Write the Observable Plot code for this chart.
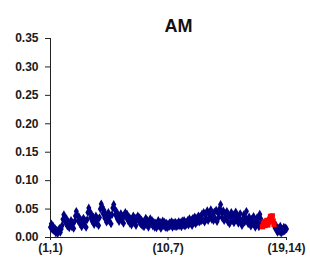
<!DOCTYPE html>
<html>
<head>
<meta charset="utf-8">
<script src="https://cdn.jsdelivr.net/npm/d3@7"></script>
<script src="https://cdn.jsdelivr.net/npm/@observablehq/plot@0.6"></script>
<style>
  html, body { margin: 0; padding: 0; background: #fff; }
  #chart svg { display: block; }
</style>
</head>
<body>
<div id="chart"></div>
<script>
const title = "AM";
const rowCount = 19;
const colCount = 14;
const xTickIndex = [1, 133, 266];
const xTickLabels = ["(1,1)", "(10,7)", "(19,14)"];
const yTicks = [0, 0.05, 0.10, 0.15, 0.20, 0.25, 0.30, 0.35];
const highlightRow = 18;

// values, one row of 14 per line
const values = [
  0.018, 0.024, 0.014, 0.020, 0.012, 0.016, 0.008, 0.013, 0.007, 0.011, 0.016, 0.009, 0.015, 0.021,
  0.032, 0.040, 0.036, 0.026, 0.033, 0.020, 0.027, 0.017, 0.024, 0.030, 0.019, 0.026, 0.016, 0.028,
  0.038, 0.046, 0.040, 0.030, 0.036, 0.024, 0.031, 0.019, 0.027, 0.034, 0.022, 0.029, 0.018, 0.031,
  0.044, 0.052, 0.046, 0.035, 0.041, 0.028, 0.036, 0.023, 0.031, 0.038, 0.025, 0.033, 0.021, 0.035,
  0.050, 0.059, 0.054, 0.042, 0.048, 0.034, 0.041, 0.027, 0.036, 0.044, 0.029, 0.038, 0.024, 0.040,
  0.052, 0.058, 0.050, 0.040, 0.046, 0.033, 0.039, 0.028, 0.035, 0.042, 0.030, 0.037, 0.025, 0.038,
  0.044, 0.036, 0.041, 0.030, 0.036, 0.025, 0.033, 0.022, 0.029, 0.038, 0.026, 0.034, 0.021, 0.031,
  0.038, 0.030, 0.035, 0.024, 0.031, 0.021, 0.028, 0.019, 0.026, 0.034, 0.023, 0.030, 0.018, 0.027,
  0.033, 0.025, 0.030, 0.020, 0.027, 0.018, 0.025, 0.017, 0.023, 0.030, 0.020, 0.027, 0.016, 0.024,
  0.029, 0.021, 0.027, 0.018, 0.025, 0.017, 0.024, 0.019, 0.026, 0.021, 0.028, 0.018, 0.025, 0.020,
  0.027, 0.019, 0.025, 0.020, 0.028, 0.021, 0.026, 0.019, 0.029, 0.022, 0.030, 0.020, 0.027, 0.023,
  0.030, 0.022, 0.033, 0.025, 0.031, 0.021, 0.034, 0.026, 0.036, 0.024, 0.033, 0.028, 0.038, 0.027,
  0.037, 0.029, 0.041, 0.031, 0.044, 0.027, 0.039, 0.033, 0.047, 0.030, 0.042, 0.035, 0.049, 0.032,
  0.040, 0.030, 0.045, 0.033, 0.048, 0.028, 0.043, 0.036, 0.051, 0.058, 0.044, 0.034, 0.047, 0.030,
  0.041, 0.033, 0.046, 0.028, 0.039, 0.024, 0.036, 0.044, 0.030, 0.040, 0.026, 0.037, 0.045, 0.031,
  0.038, 0.025, 0.034, 0.042, 0.029, 0.021, 0.033, 0.040, 0.027, 0.035, 0.046, 0.031, 0.024, 0.036,
  0.028, 0.020, 0.032, 0.025, 0.037, 0.022, 0.018, 0.030, 0.035, 0.026, 0.019, 0.041, 0.033, 0.024,
  0.019, 0.024, 0.028, 0.021, 0.026, 0.030, 0.022, 0.027, 0.032, 0.037, 0.034, 0.038, 0.029, 0.023,
  0.017, 0.022, 0.013, 0.009, 0.016, 0.011, 0.020, 0.008, 0.014, 0.010, 0.018, 0.012, 0.017, 0.015
];

const data = values.map((v, i) => ({
  i: i + 1,
  row: Math.floor(i / colCount) + 1,
  col: (i % colCount) + 1,
  v
}));
const normal = data.filter(d => d.row !== highlightRow);
const highlighted = data.filter(d => d.row === highlightRow);

const font = "'Liberation Sans', Arial, sans-serif";

const chart = Plot.plot({
  width: 310,
  height: 260,
  marginLeft: 50,
  marginRight: 24,
  marginTop: 38,
  marginBottom: 23,
  style: { fontFamily: font, fontSize: "12px", fontWeight: "bold", color: "#1a1a1a", background: "#fff" },
  x: { domain: [1, rowCount * colCount], axis: null },
  y: { domain: [0, 0.35], axis: null },
  marks: [
    Plot.axisY({ ticks: yTicks, tickFormat: d3.format(".2f"), tickSize: 5, tickPadding: 7, label: null, stroke: "#222" }),
    Plot.axisX({ ticks: xTickIndex, tickFormat: (d) => xTickLabels[xTickIndex.indexOf(d)], tickSize: 3, tickPadding: 3, label: null, stroke: "#222" }),
    Plot.ruleX([xTickIndex[0]], { stroke: "#222", strokeWidth: 1 }),
    Plot.ruleY([yTicks[0]], { stroke: "#222", strokeWidth: 1 }),
    Plot.dot(normal, { x: "i", y: "v", symbol: "diamond", r: 2.7, fill: "#000080", stroke: "none" }),
    Plot.dot(highlighted, { x: "i", y: "v", symbol: "square", r: 3, fill: "#ff0000", stroke: "none" }),
    Plot.text([title], { frameAnchor: "top", dx: 10, dy: -19, fontSize: 18, fontWeight: "bold", fill: "#111", text: d => d })
  ]
});
document.getElementById("chart").appendChild(chart);
</script>
</body>
</html>
